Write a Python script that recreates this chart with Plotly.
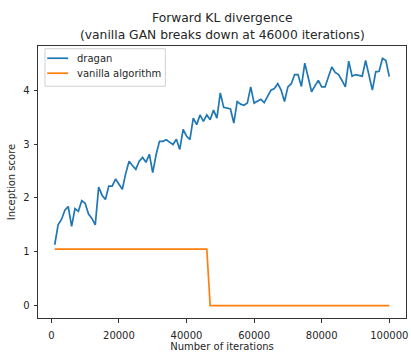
import plotly.graph_objects as go

iterations = list(range(1000, 100001, 1000))

dragan = [
    1.13, 1.50, 1.60, 1.77, 1.84, 1.47, 1.80, 1.75, 1.95, 1.90,
    1.70, 1.62, 1.50, 2.20, 2.05, 1.97, 2.22, 2.22, 2.35, 2.25,
    2.16, 2.45, 2.68, 2.60, 2.53, 2.68, 2.75, 2.66, 2.81, 2.47,
    2.80, 3.05, 3.05, 3.08, 3.03, 2.99, 3.09, 2.90, 3.27, 3.15,
    3.08, 3.48, 3.36, 3.54, 3.42, 3.54, 3.45, 3.63, 3.48, 3.95,
    3.68, 3.66, 3.65, 3.39, 3.79, 3.74, 3.72, 3.76, 4.06, 3.76,
    3.79, 3.83, 3.77, 3.90, 4.00, 4.03, 4.12, 4.00, 3.79, 4.06,
    4.12, 4.29, 4.29, 4.07, 4.50, 4.24, 3.97, 4.08, 4.18, 4.06,
    4.06, 4.25, 4.43, 4.33, 4.29, 4.18, 4.06, 4.54, 4.26, 4.29,
    4.28, 4.26, 4.55, 4.28, 4.00, 4.34, 4.35, 4.59, 4.55, 4.25,
]

vanilla = [
    1.05, 1.05, 1.05, 1.05, 1.05, 1.05, 1.05, 1.05, 1.05, 1.05,
    1.05, 1.05, 1.05, 1.05, 1.05, 1.05, 1.05, 1.05, 1.05, 1.05,
    1.05, 1.05, 1.05, 1.05, 1.05, 1.05, 1.05, 1.05, 1.05, 1.05,
    1.05, 1.05, 1.05, 1.05, 1.05, 1.05, 1.05, 1.05, 1.05, 1.05,
    1.05, 1.05, 1.05, 1.05, 1.05, 1.05, 0.0, 0.0, 0.0, 0.0,
    0.0, 0.0, 0.0, 0.0, 0.0, 0.0, 0.0, 0.0, 0.0, 0.0,
    0.0, 0.0, 0.0, 0.0, 0.0, 0.0, 0.0, 0.0, 0.0, 0.0,
    0.0, 0.0, 0.0, 0.0, 0.0, 0.0, 0.0, 0.0, 0.0, 0.0,
    0.0, 0.0, 0.0, 0.0, 0.0, 0.0, 0.0, 0.0, 0.0, 0.0,
    0.0, 0.0, 0.0, 0.0, 0.0, 0.0, 0.0, 0.0, 0.0, 0.0,
]

series_names = ["dragan", "vanilla algorithm"]
series_colors = ["#1f77b4", "#ff7f0e"]

x_ticks = [0, 20000, 40000, 60000, 80000, 100000]
y_ticks = [0, 1, 2, 3, 4]

title_lines = ["Forward KL divergence", "(vanilla GAN breaks down at 46000 iterations)"]

FONT = "DejaVu Sans"
TXT = "#262626"
LW = 1.7

fig = go.Figure()
for name, vals, col in zip(series_names, [dragan, vanilla], series_colors):
    fig.add_trace(go.Scatter(x=iterations, y=vals, mode="lines", name=name,
                             line=dict(color=col, width=LW)))

fig.update_layout(
    width=411, height=352,
    margin=dict(l=38, r=3, t=46, b=32),
    paper_bgcolor="white", plot_bgcolor="white",
    font=dict(family=FONT, size=10, color=TXT),
    showlegend=False,
)

fig.update_xaxes(range=[-3950, 104950], tickvals=x_ticks, ticktext=[str(v) for v in x_ticks],
                 showgrid=False, zeroline=False, showline=True, mirror=True,
                 linecolor="#333333", linewidth=1, ticks="outside", ticklen=3.5,
                 tickcolor="#333333", tickfont=dict(size=10, color=TXT),
                 ticklabelstandoff=4,
                 title=dict(text="Number of iterations", font=dict(size=10, color=TXT), standoff=1))
fig.update_yaxes(range=[-0.23, 4.82], tickvals=y_ticks, ticktext=[str(v) for v in y_ticks],
                 showgrid=False, zeroline=False, showline=True, mirror=True,
                 linecolor="#333333", linewidth=1, ticks="outside", ticklen=3.5,
                 tickcolor="#333333", tickfont=dict(size=10, color=TXT),
                 ticklabelstandoff=2,
                 title=dict(text="Inception score", font=dict(size=10, color=TXT), standoff=5))

fig.add_annotation(text=title_lines[0], xref="paper", yref="paper", x=0.5, y=1.102,
                   xanchor="center", yanchor="middle", showarrow=False,
                   font=dict(size=12.3, color=TXT, family=FONT))
fig.add_annotation(text=title_lines[1], xref="paper", yref="paper", x=0.5, y=1.040,
                   xanchor="center", yanchor="middle", showarrow=False,
                   font=dict(size=12.3, color=TXT, family=FONT))

# legend box (drawn manually to match compact matplotlib spacing)
fig.add_shape(type="rect", xref="paper", yref="paper", x0=0.019, x1=0.346, y0=0.852, y1=0.990,
              line=dict(color="#d0d0d0", width=1), fillcolor="rgba(255,255,255,0.85)", layer="above")
legend_rows_y = [0.955, 0.900]
for name, col, ly in zip(series_names, series_colors, legend_rows_y):
    fig.add_shape(type="line", xref="paper", yref="paper", x0=0.025, x1=0.082, y0=ly, y1=ly,
                  line=dict(color=col, width=LW), layer="above")
    fig.add_annotation(text=name, xref="paper", yref="paper", x=0.100, y=ly,
                       xanchor="left", yanchor="middle", showarrow=False,
                       font=dict(size=10, color=TXT, family=FONT))

fig.write_html("out.html")
